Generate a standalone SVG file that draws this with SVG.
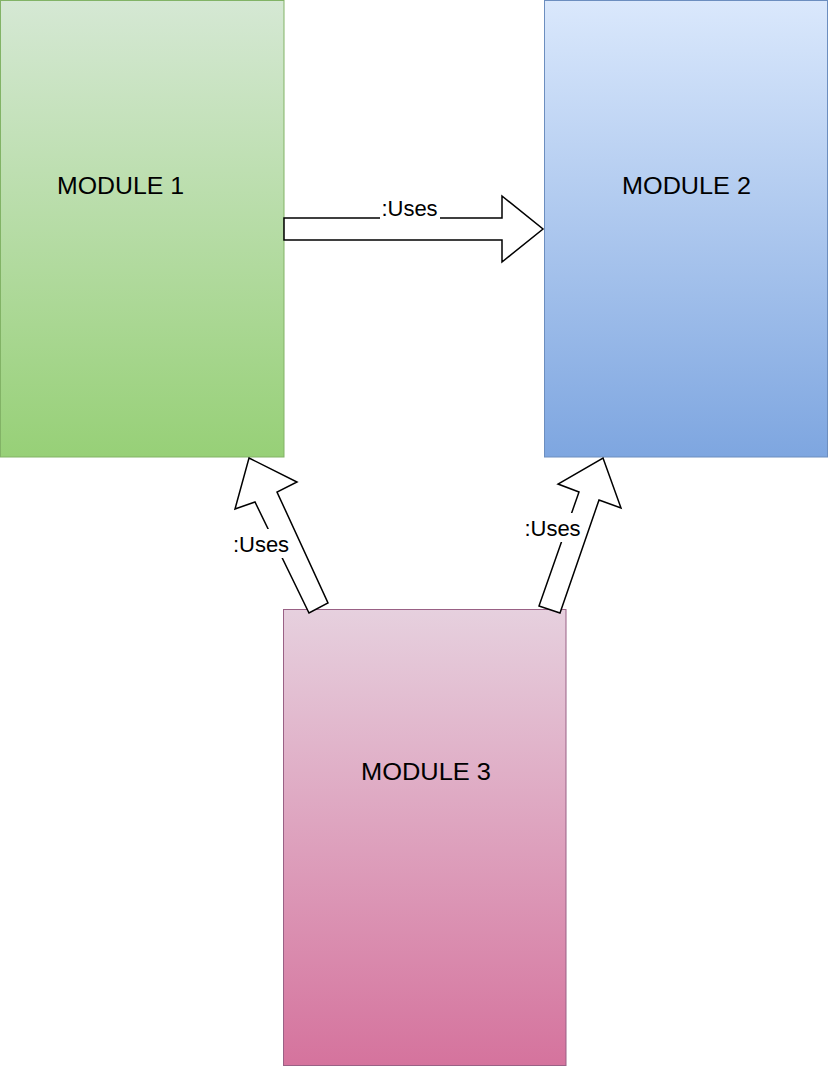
<svg xmlns="http://www.w3.org/2000/svg" width="828" height="1067" viewBox="0 0 828 1067">
  <defs>
    <linearGradient id="gGreen" x1="0" y1="0" x2="0" y2="1">
      <stop offset="0" stop-color="#d5e8d4"/>
      <stop offset="1" stop-color="#97d077"/>
    </linearGradient>
    <linearGradient id="gBlue" x1="0" y1="0" x2="0" y2="1">
      <stop offset="0" stop-color="#dae8fc"/>
      <stop offset="1" stop-color="#7ea6e0"/>
    </linearGradient>
    <linearGradient id="gPink" x1="0" y1="0" x2="0" y2="1">
      <stop offset="0" stop-color="#e6d0de"/>
      <stop offset="1" stop-color="#d5739d"/>
    </linearGradient>
  </defs>
  <style>
    .mod { font-family: "Liberation Sans", Arial, sans-serif; font-size: 23px; fill: #000; text-anchor: middle; }
    .lbl { font-family: "Liberation Sans", Arial, sans-serif; font-size: 22px; fill: #000; text-anchor: middle; }
    .arrow { fill: #fff; stroke: #000; stroke-width: 1.5; stroke-linejoin: miter; }
    .lblbg { fill: #fff; }
  </style>
  <g id="module1">
    <rect x="0.5" y="0.5" width="283.5" height="456.5" fill="url(#gGreen)" stroke="#82b366" stroke-width="1"/>
    <text class="mod" x="120.5" y="194" textLength="127" lengthAdjust="spacingAndGlyphs">MODULE 1</text>
  </g>
  <g id="module2">
    <rect x="544.5" y="0.5" width="283" height="456.5" fill="url(#gBlue)" stroke="#6c8ebf" stroke-width="1"/>
    <text class="mod" x="686.5" y="194" textLength="129" lengthAdjust="spacingAndGlyphs">MODULE 2</text>
  </g>
  <g id="module3">
    <rect x="283.5" y="609.5" width="282.5" height="456" fill="url(#gPink)" stroke="#996185" stroke-width="1"/>
    <text class="mod" x="426" y="780" textLength="130" lengthAdjust="spacingAndGlyphs">MODULE 3</text>
  </g>
  <g id="connectors">
    <g id="edge-1-2">
      <polygon class="arrow" points="284,218 502,218 502,196 543,229 502,262 502,240 284,240"/>
      <rect class="lblbg" x="380" y="198" width="60" height="23"/>
      <text class="lbl" x="409.5" y="216">:Uses</text>
    </g>
    <g id="edge-3-1">
      <polygon class="arrow" points="249,458 297,482 277,492 328,603 309,613 255,502 235,509"/>
      <rect class="lblbg" x="232" y="529" width="58" height="29"/>
      <text class="lbl" x="261" y="552">:Uses</text>
    </g>
    <g id="edge-3-2">
      <polygon class="arrow" points="603,458 621,508 599,500 560,613 539,606 579,492 558,484"/>
      <rect class="lblbg" x="524" y="513" width="57" height="29"/>
      <text class="lbl" x="552.5" y="536">:Uses</text>
    </g>
  </g>
</svg>
